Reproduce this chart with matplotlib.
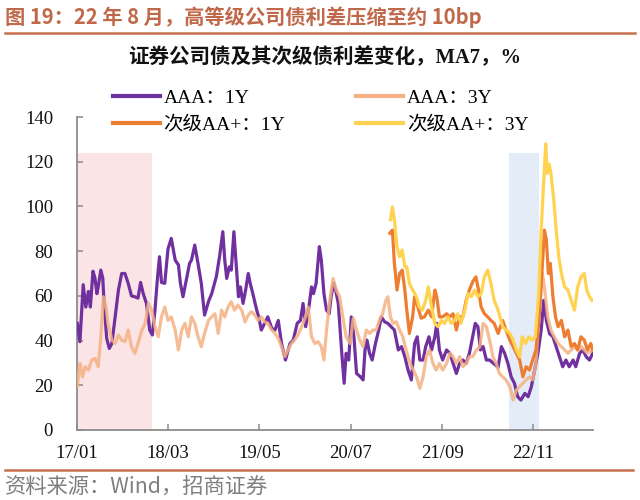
import matplotlib
matplotlib.use("Agg")
import matplotlib.pyplot as plt
from matplotlib.lines import Line2D

plt.rcParams['font.family'] = ['Liberation Serif', 'Noto Sans CJK SC']

# ---------------- data (months since 2017-01) ----------------
t_aaa1 = [0.1,0.5,1.0,1.4,1.8,2.1,2.5,2.8,3.1,3.3,
          3.7,4.0,4.2,4.6,5.0,5.4,5.9,6.4,6.9,7.4,
          7.9,8.4,8.9,9.4,9.8,10.2,10.7,11.2,11.6,12.0,
          12.4,12.7,13.0,13.5,14.0,14.5,15.1,15.6,15.9,16.3,
          16.7,17.3,17.6,18.1,18.6,19.1,19.6,20.2,20.7,
          21.4,21.9,22.4,22.7,23.0,23.4,23.7,24.1,24.4,24.8,
          25.1,25.5,25.9,26.3,26.6,27.0,27.6,27.9,28.3,28.8,
          29.3,29.9,30.4,30.9,31.4,32.0,32.7,33.2,33.8,34.3,
          34.7,35.1,35.6,36.0,36.3,36.7,37.2,37.5,37.9,38.3,
          38.7,39.0,39.4,39.7,40.1,40.6,41.0,41.3,41.7,42.1,
          42.5,42.9,
          43.5,43.9,44.2,44.5,44.9,45.3,45.8,46.3,46.7,47.2,
          47.7,48.2,48.7,49.3,49.8,50.3,50.8,51.3,51.8,52.2,
          52.6,53.1,53.5,54.0,54.4,54.9,55.2,55.6,56.1,56.7,
          57.2,57.7,58.2,58.7,59.2,59.7,60.2,60.7,61.1,61.5,
          61.9,62.3,62.8,63.3,63.9,
          64.6,65.1,65.6,66.1,66.6,67.1,67.6,68.1,68.7,69.2,
          69.7,70.2,70.7,71.2,71.6,72.0,72.5,73.0,73.5,74.0,
          74.5,75.0,75.5,76.1,76.5,77.1,77.6,78.1,78.6,79.1]
v_aaa1 = [47.7,39.5,65,55,62,55,71,68,61,64,
          71.5,68,56.6,41,36.5,38.7,50.6,62.6,70,70,
          65.6,60,59.6,59,66,61,56.6,44.7,42.5,53.6,
          68.5,77.5,66,65.6,81,85.7,76,73.8,65.6,59.6,
          65.6,74.5,76,82.7,74.5,65.6,51.4,57.4,61,
          68.5,77.5,88.7,76,67.8,73,71.5,88.7,76,59.6,
          64,56.6,62.6,70,65.6,61,53.6,50.6,44.7,47.7,
          50.6,45.5,44.7,49,38.7,31.3,38.7,40.2,47.7,49,
          56.6,46.2,55,64,61,65.6,82,76,61,53.6,
          52,59.6,65.6,62.6,56.6,35.8,20.9,34.3,31.3,50.6,
          41.7,25.3,
          23.8,22.4,35.8,40.2,34.3,31.3,38.7,44.7,50.6,48.4,
          47.7,46.2,44.7,35.8,37.3,32.8,26.8,22.4,38.7,41.7,
          31.3,31.3,37.3,41.7,35.8,41.7,47.7,35.8,31.3,35.8,
          34.3,29.8,25.3,29.8,31.3,29.8,34.3,41.7,47.7,46.2,
          35.8,37.3,31.3,31.3,29.8,
          28,37.3,34.3,29.8,23.8,20.9,14.9,13.4,16.4,14.9,
          19.4,26.8,34.3,44.7,58,49,43,41.7,37.3,32.8,
          28.3,31.3,28.3,31.3,28.3,34.3,35.8,32.8,31.3,34.3]

t_aaa3 = [0.1,0.5,0.9,1.3,1.8,2.3,2.8,3.3,3.7,4.1,
          4.5,4.8,5.4,5.9,6.4,6.9,7.4,7.9,8.4,8.9,
          9.4,10.0,10.5,11.0,11.5,12.0,12.5,13.0,13.5,14.0,
          14.5,15.1,15.6,16.1,16.6,17.1,17.6,18.1,18.6,19.1,
          19.6,20.2,20.7,21.2,21.7,
          22.2,22.7,23.2,23.7,24.2,24.7,25.3,25.8,26.3,26.8,
          27.3,27.8,28.3,28.8,29.3,29.9,30.4,30.9,31.4,31.9,
          32.4,32.9,33.4,33.9,34.5,35.0,35.5,36.0,36.5,37.0,
          37.5,37.9,38.3,38.8,39.3,39.8,40.3,40.8,41.3,41.9,
          42.4,
          42.9,43.4,43.9,44.4,44.9,45.4,45.9,46.4,46.9,47.4,
          47.7,48.1,48.5,49.0,49.5,50.0,50.5,51.1,51.6,52.1,
          52.6,53.1,53.6,54.1,54.6,55.1,55.6,56.1,56.7,57.2,
          57.7,58.2,58.7,59.2,59.7,60.2,60.7,61.3,61.8,62.3,
          62.8,63.3,63.8,64.3,
          64.8,65.3,65.8,66.4,66.9,67.4,67.9,68.4,68.9,69.4,
          69.9,70.4,70.9,71.4,71.7,72.2,72.7,73.2,73.8,74.3,
          74.8,75.3,75.8,76.3,76.8,77.3,77.8,78.3,79.1]
v_aaa3 = [19.4,29.8,23.8,28.3,26.8,31.3,32,28.3,41.7,59.6,
          55,47.7,40.2,38.7,42.5,40.2,39.5,44.7,37.3,34.3,
          38.7,44.7,47.7,56.6,53.6,46.2,41.7,50.6,55,49,
          50.6,44.7,35.8,44.7,47.7,41.7,50.6,47.7,41.7,37.3,
          43.2,49,50.6,52,43.2,
          53.6,50.6,55,57.4,53.6,55.9,53.6,48.4,51.4,52.9,
          51.4,49,50.6,48.4,47.7,44.7,43.2,41,37.3,32.8,
          35.8,38.7,40.2,42.5,46.2,50,55,41.7,38.7,39.5,
          37.3,31.3,44.7,58,67.8,62.6,59.6,50.6,41.7,38.7,
          50,
          44.7,40.2,37.3,44.7,43.2,44.7,44.7,49,52,58,
          59.6,50.6,47.7,48.4,44.7,41.7,35.8,29.8,26.8,23.8,
          18.6,23.8,32.8,35.8,29.8,26.8,29.8,26.8,29.8,34.3,
          32.8,29.8,32.8,28.3,29.8,32.8,32.8,35.8,37.3,47.7,
          46.2,40.2,32.8,29.8,
          25.3,23.8,22.4,19.4,13.4,17.9,19.4,20.9,22.4,23.8,
          22.4,29.8,52,70,64,50.6,44.7,41.7,38.7,37.3,
          35.8,34.3,35.8,37.3,35.8,37.3,35.8,34.3,35.8]

t_aap1 = [48.0,48.4,48.7,49.1,49.5,49.9,50.3,50.6,51.0,51.5,
          51.8,52.3,52.8,53.3,53.9,54.4,54.9,55.2,55.6,56.1,
          56.7,57.2,57.7,58.2,58.7,59.2,59.7,60.2,60.7,61.2,
          61.6,62.0,62.5,63.0,63.5,64.0,64.6,65.3,65.8,66.4,
          66.9,67.4,67.9,68.4,68.9,69.4,69.9,70.4,70.9,71.4,
          71.7,72.0,72.3,72.6,73.0,73.4,73.8,74.3,74.8,75.3,
          75.8,76.3,76.8,77.3,77.8,78.3,78.8,79.1]
v_aap1 = [88,89.4,74.5,62.6,70,71.5,62.6,53.6,43.2,50.6,
          59.6,55,50,50.6,53.6,50.6,62.6,59.6,50.6,50.6,
          52,50.6,52,44.7,50.6,50.6,58,62.6,66.3,68.5,
          62.6,55,52,50.6,49,47.7,43.2,49,44.7,40.2,
          37.3,34.3,31.3,23.8,28.3,26.8,31.3,35.8,50.6,74.5,
          89.4,85,70,74.5,59.6,50.6,46.2,49,41.7,44.7,
          37.3,38.7,35.8,41.7,40.2,35.8,38.7,35.8]

t_aap3 = [48.1,48.4,48.7,49.1,49.5,49.9,50.3,50.6,51.0,51.5,
          52.1,52.5,53.0,53.5,53.9,54.4,54.9,55.4,55.9,56.4,
          56.9,57.4,57.9,58.4,58.9,59.5,60.0,60.5,61.0,61.5,
          62.0,62.5,63.0,63.5,64.0,64.6,65.3,65.8,66.4,66.9,
          67.4,67.9,68.3,68.8,69.3,69.8,70.3,70.8,71.2,71.6,
          71.9,72.1,72.4,72.7,73.1,73.5,73.9,74.3,74.8,75.3,
          75.8,76.3,76.8,77.3,77.8,78.2,78.6,79.0]
v_aap3 = [94,99.8,94,82,77.5,80.5,73,73,65.6,62.6,
          59.6,55,53.6,58,64,55,47.7,46.2,49,47.7,
          50.6,47.7,49,52,47.7,53.6,61,59.6,62.6,59.6,
          61,68.5,71.5,65.6,58,53.6,46.2,44.7,43.2,40.2,
          35.8,32.8,41.7,38.7,41.7,40.2,41.7,59.6,89.4,111.8,
          128,114.8,119,114.8,104,89.4,77.5,70,64,62.6,
          58,53.6,64,68.5,70,62.6,59.6,58]

tick_pos = [0, 14, 28, 42, 56, 70]
tick_labels = ['17/01', '18/03', '19/05', '20/07', '21/09', '22/11']
y_ticks = [0, 20, 40, 60, 80, 100, 120, 140]
span_pink = (0, 11.6)
span_blue = (66.2, 70.8)
span_top = 124

labels = ['AAA：1Y', 'AAA：3Y', '次级AA+：1Y', '次级AA+：3Y']
colors = ['#7030A0', '#F4B183', '#ED7D31', '#FFD24F']

# ---------------- figure ----------------
fig = plt.figure(figsize=(6.4, 5), dpi=100)
ax = fig.add_axes([0.1198, 0.14, 0.8063, 0.626])

ax.axvspan(*span_pink, ymin=0, ymax=span_top / 140, color='#FBE4E5', lw=0, zorder=0)
ax.axvspan(*span_blue, ymin=0, ymax=span_top / 140, color='#E3ECF7', lw=0, zorder=0)

lw = 2.3
l1, = ax.plot(t_aaa1, v_aaa1, color=colors[0], lw=lw, zorder=3)
l2, = ax.plot(t_aaa3, v_aaa3, color=colors[1], lw=lw, alpha=0.85, zorder=4)
l3, = ax.plot(t_aap1, v_aap1, color=colors[2], lw=lw, zorder=5)
l4, = ax.plot(t_aap3, v_aap3, color=colors[3], lw=lw, zorder=6)

ax.set_xlim(0, 79.1)
ax.set_ylim(0, 140)
ax.set_xticks(tick_pos)
ax.set_xticklabels(tick_labels)
ax.set_yticks(y_ticks)
for s in ['top', 'right']:
    ax.spines[s].set_visible(False)
for s in ['left', 'bottom']:
    ax.spines[s].set_color('#8C8C8C')
    ax.spines[s].set_linewidth(1.3)
ax.tick_params(axis='both', direction='in', length=4, width=1.1, color='#8C8C8C',
               labelsize=13.5, labelcolor='#111111')
ax.tick_params(axis='y', pad=17)
ax.tick_params(axis='x', pad=11)
for lab in ax.get_xticklabels() + ax.get_yticklabels():
    lab.set_family('Liberation Serif')

leg = fig.legend([l1, l3, l2, l4], [labels[0], labels[2], labels[1], labels[3]],
                 loc='upper left', bbox_to_anchor=(113 / 640, 1 - 89 / 500),
                 ncol=2, frameon=False, borderpad=0, borderaxespad=0,
                 handlelength=2.4, handletextpad=0.2, columnspacing=3.65,
                 labelspacing=0.45, prop={'family': ['Liberation Serif', 'Noto Sans CJK SC'], 'size': 14})
for h in leg.legend_handles:
    h.set_linewidth(3)
    h.set_alpha(1)

# title, subtitle, source
line_col = '#C8714F'
fig.text(5 / 640, 1 - 17 / 500, '图 19：22 年 8 月，高等级公司债利差压缩至约 10bp',
         family=['Noto Sans CJK SC'], fontsize=14.6, fontweight='bold', color='#C0694A',
         ha='left', va='center')
fig.add_artist(Line2D([5 / 640, 635 / 640], [1 - 33 / 500] * 2, color=line_col, lw=1.8))
fig.text(0.508, 1 - 58 / 500, '证券公司债及其次级债利差变化，MA7，%',
         family=['Liberation Serif', 'Noto Sans CJK SC'], fontsize=14.8, fontweight='bold',
         color='#111111', ha='center', va='center')
fig.add_artist(Line2D([5 / 640, 633 / 640], [1 - 470 / 500] * 2, color=line_col, lw=1.8))
fig.text(5 / 640, 1 - 487 / 500, '资料来源：Wind，招商证券',
         family=['Noto Sans CJK SC'], fontsize=15.3, color='#7F7F7F',
         ha='left', va='center')

fig.savefig('out.png', dpi=100)
